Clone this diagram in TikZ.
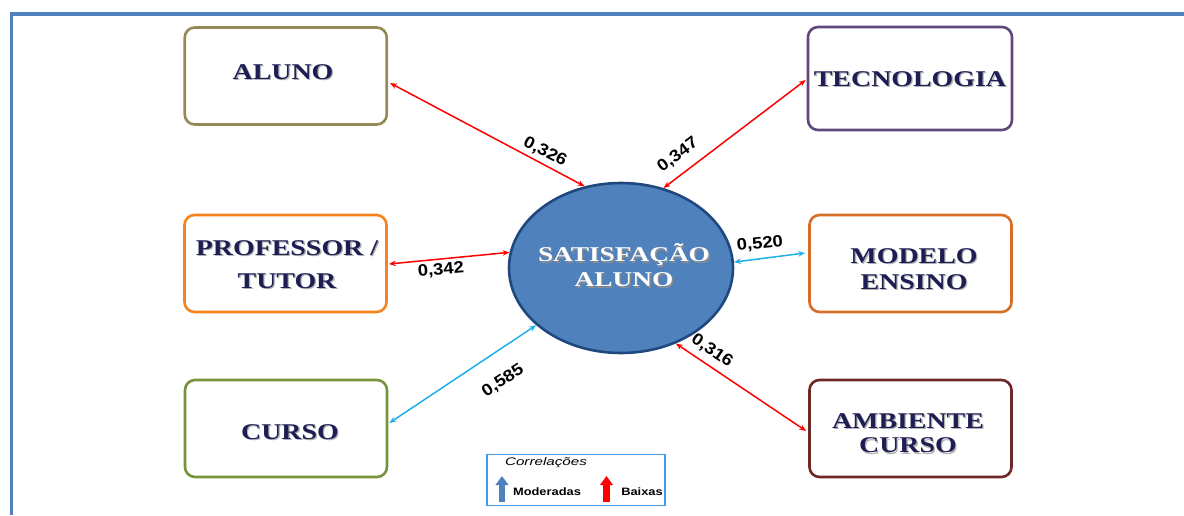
\documentclass[tikz,border=0pt]{standalone}
\usepackage{fontspec}
\usetikzlibrary{calc,arrows.meta,shapes.geometric}
\newfontfamily\boxfont[FakeStretch=1.24]{Liberation Serif}
\newfontfamily\satfont[FakeStretch=1.3]{Liberation Serif}
\newfontfamily\numfont[FakeStretch=1.12]{Liberation Sans}
\newfontfamily\legfont[FakeStretch=1.2]{Liberation Sans}
\definecolor{frameblue}{RGB}{79,129,189}
\definecolor{ellborder}{RGB}{31,73,125}
\definecolor{navytext}{RGB}{30,30,85}
\definecolor{cAluno}{RGB}{148,138,84}
\definecolor{cTecno}{RGB}{95,73,122}
\definecolor{cProf}{RGB}{247,130,30}
\definecolor{cModelo}{RGB}{215,110,40}
\definecolor{cCurso}{RGB}{119,147,60}
\definecolor{cAmb}{RGB}{110,40,40}
\definecolor{cyanline}{RGB}{30,176,230}
\definecolor{legborder}{RGB}{70,150,240}
\newcommand\shd[1]{\leavevmode\rlap{\kern1.3pt\raisebox{-1.3pt}{\textcolor{black!30}{#1}}}#1}
\newcommand\shw[1]{\leavevmode\rlap{\kern1.3pt\raisebox{-1.3pt}{\textcolor{black!45}{#1}}}#1}
\begin{document}
\begin{tikzpicture}[x=1pt,y=-1pt,
  box/.style={draw, line width=2.6pt, rounded corners=10pt, minimum width=202pt, minimum height=97pt, inner sep=0pt},
  boxtext/.style={inner sep=0pt, align=center, text=navytext, font=\boxfont\bfseries\fontsize{22.5}{24}\selectfont},
  sattext/.style={inner sep=0pt, align=center, text=white, font=\satfont\bfseries\fontsize{21}{24}\selectfont},
  link/.style={line width=1.5pt, {Stealth[length=7pt,width=5.5pt]}-{Stealth[length=7pt,width=5.5pt]}},
  lowlink/.style={link, red},
  modlink/.style={link, cyanline},
  val/.style={inner sep=0pt, font=\numfont\bfseries\fontsize{16.5}{18}\selectfont},
  legtext/.style={inner sep=0pt, font=\legfont\bfseries\fontsize{10.7}{12}\selectfont},
  legarrow/.style={line width=6.5pt, -{Triangle[width=12.5pt,length=9pt]}}
]
\useasboundingbox (0,0) rectangle (1184,515);
% frame
\draw[frameblue, line width=3.5pt] (1184,14) -- (11.5,14) -- (11.5,515);

% boxes
\node[box, draw=cAluno] (aluno) at (285.75,76) {};
\node[box, draw=cTecno, minimum width=204pt, minimum height=103pt] (tecno) at (910,78.5) {};
\node[box, draw=cProf] (prof) at (285.5,263.5) {};
\node[box, draw=cModelo] (modelo) at (910.5,263.5) {};
\node[box, draw=cCurso] (curso) at (286,428.5) {};
\node[box, draw=cAmb] (amb) at (910.5,428.5) {};

% box texts
\node[boxtext] (aluno-t) at (283,73) {\shd{ALUNO}};
\node[boxtext] (tecno-t) at (910,80) {\shd{TECNOLOGIA}};
\node[boxtext] (prof-t) at (287,265) {\shd{PROFESSOR /}\\[9pt]\shd{TUTOR}};
\node[boxtext] (modelo-t) at (914,270) {\shd{MODELO}\\[2pt]\shd{ENSINO}};
\node[boxtext] (amb-t) at (908,434) {\shd{AMBIENTE}\\[0.5pt]\shd{CURSO}};
\node[boxtext] (curso-t) at (290,433) {\shd{CURSO}};

% central ellipse
\node[draw=ellborder, fill=frameblue, line width=2.6pt, ellipse, minimum width=224pt, minimum height=170pt, inner sep=0pt] (sat) at (621,268) {};
\node[sattext] (sat-t) at (624,266) {\shw{SATISFAÇÃO}\\[1pt]\shw{ALUNO}};

% connectors
\draw[lowlink] ($(aluno.east)+(2,7)$) -- (sat.114);
\draw[lowlink] (sat.62.6) -- ($(tecno.west)+(-1,1.5)$);
\draw[lowlink] ($(prof.east)+(1,0.5)$) -- (sat.172);
\draw[modlink] (sat.3) -- ($(modelo.west)+(-3,-10.5)$);
\draw[modlink] ($(curso.east)+(1,-5.5)$) -- (sat.214.8);
\draw[lowlink] (sat.306.7) -- ($(amb.west)+(-2,2.5)$);

% values
\node[val, rotate=-27] (v-aluno) at (545,152) {0,326};
\node[val, rotate=37] (v-tecno) at (678,155) {0,347};
\node[val, rotate=5] (v-prof) at (441,270) {0,342};
\node[val, rotate=6] (v-modelo) at (760,244) {0,520};
\node[val, rotate=33] (v-curso) at (503,381) {0,585};
\node[val, rotate=-34] (v-amb) at (712,351) {0,316};

% legend
\node[draw=legborder, line width=1.3pt, minimum width=178pt, minimum height=51pt, inner sep=0pt] (leg) at (576,480) {};
\node[inner sep=0pt, font=\legfont\itshape\fontsize{11}{12}\selectfont] (leg-title) at (546,463) {\scalebox{1.15}[1]{Correlações}};
\draw[legarrow, frameblue] (502,502) -- (502,476);
\draw[legarrow, red] (606.5,502) -- (606.5,476);
\node[legtext] (leg-mod) at (547,492) {Moderadas};
\node[legtext] (leg-baix) at (642,492) {Baixas};
\end{tikzpicture}
\end{document}
